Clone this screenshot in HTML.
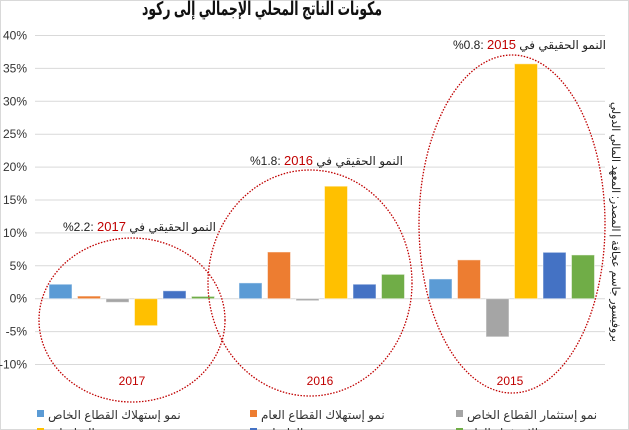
<!DOCTYPE html>
<html><head><meta charset="utf-8">
<style>
body{margin:0;background:#fff;}
#wrap{position:relative;width:629px;height:430px;overflow:hidden;background:#fff;font-family:"Liberation Sans","DejaVu Sans",sans-serif;}
svg{position:absolute;left:0;top:0;}
.ann{position:absolute;font-size:12px;color:#222;white-space:nowrap;direction:ltr;}
.ann b{color:#c00000;font-weight:normal;font-size:13px;}
</style></head>
<body>
<div id="wrap">
<svg id="chart" width="629" height="430" xmlns="http://www.w3.org/2000/svg">
  <rect x="0.5" y="0.5" width="628" height="429" fill="none" stroke="#d9d9d9"/>
  <text x="262" y="15" text-anchor="middle" font-size="19" font-weight="bold" fill="#111" textLength="240" lengthAdjust="spacingAndGlyphs" font-family="Liberation Sans, DejaVu Sans, sans-serif">مكونات الناتج المحلي الإجمالي إلى ركود</text>
  <g id="grid"></g>
  <g id="bars"></g>
  <g id="ellipses"></g>
  <text x="612" y="222" transform="rotate(90 612 222)" text-anchor="middle" font-size="11.5" fill="#222" textLength="240" lengthAdjust="spacingAndGlyphs">بروفيسور جاسم عجاقة | المصدر: المعهد المالي الدولي</text>
  <g id="legend"></g>
</svg>
<div class="ann" style="left:63px;top:219px">%2.2: <b>2017</b> النمو الحقيقي في</div>
<div class="ann" style="left:250px;top:153px">%1.8: <b>2016</b> النمو الحقيقي في</div>
<div class="ann" style="left:453px;top:37px">%0.8: <b>2015</b> النمو الحقيقي في</div>
</div>
<script>
const categories = ["2017","2016","2015"];
const seriesNames = ["نمو إستهلاك القطاع الخاص","نمو إستهلاك القطاع العام","نمو إستثمار القطاع الخاص","نمو الصادرات","نمو الواردات","نمو الإستثمار العام"];
const s1 = [2.2, 2.4, 3.0];
const s2 = [0.4, 7.1, 5.9];
const s3 = [-0.55, -0.3, -5.8];
const s4 = [-4.1, 17.1, 35.7];
const s5 = [1.2, 2.2, 7.05];
const s6 = [0.35, 3.7, 6.65];
const yTicks = [40,35,30,25,20,15,10,5,0,-5,-10];
const colors = ["#5b9bd5","#ed7d31","#a5a5a5","#ffc000","#4472c4","#70ad47"];
const NS="http://www.w3.org/2000/svg";
const plotL=35, plotR=605, y0=298.7, pxPer=6.58;
function y(v){return y0 - v*pxPer;}
const catW=(plotR-plotL)/categories.length;
function catX(i){return plotL+i*catW;}
function mk(tag,attrs,parent){const e=document.createElementNS(NS,tag);for(const k in attrs)e.setAttribute(k,attrs[k]);parent.appendChild(e);return e;}
const grid=document.getElementById('grid');
yTicks.forEach(t=>{
  const l=mk('line',{x1:plotL,x2:plotR,y1:y(t),y2:y(t),stroke:'#d9d9d9','stroke-width':1},grid);
  
  
  const tx=mk('text',{x:27,y:y(t)+4,'text-anchor':'end','font-size':12,fill:'#333'},grid);
  tx.textContent=t+'%';
  
  
});
const series=[s1,s2,s3,s4,s5,s6];
const bars=document.getElementById('bars');
const step=28.5, bw=23, off=14;
categories.forEach((c,i)=>{
  series.forEach((s,j)=>{
    const v=s[i];
    const x=catX(i)+off+j*step;
    const r=mk('rect',{x:x,y:Math.min(y(v),y0),width:bw,height:Math.max(1,Math.abs(y(v)-y0)),fill:colors[j],stroke:'#fff','stroke-opacity':0.5},bars);
    
    
  });
});
const ell=document.getElementById('ellipses');
const ellDefs=[[132,320,93,82],[310,283,102,113],[512,224,93,169]];
categories.forEach((c,i)=>{
  const d=ellDefs[i];
  const e=mk('ellipse',{cx:d[0],cy:d[1],rx:d[2],ry:d[3],fill:'none',stroke:'#c00000','stroke-width':1.3,'stroke-dasharray':'1.5 1.5'},ell);
  
  
  const t=mk('text',{x:catX(i)+catW/2+ (i==0?2:0),y:385,'text-anchor':'middle','font-size':12,fill:'#c00000'},ell);
  t.textContent=c;
  
  
});
const leg=document.getElementById('legend');
const legPos=[[37,419],[250,419],[456,419],[37,437],[250,437],[456,437]];
seriesNames.forEach((n,j)=>{
  const p=legPos[j];
  const r=mk('rect',{x:p[0],y:p[1]-9,width:7,height:7,fill:colors[j]},leg);
  
  
  const t=mk('text',{x:p[0]+11,y:p[1],'font-size':12,fill:'#333'},leg);
  t.textContent=n;
  
  
});
</script>
</body></html>
